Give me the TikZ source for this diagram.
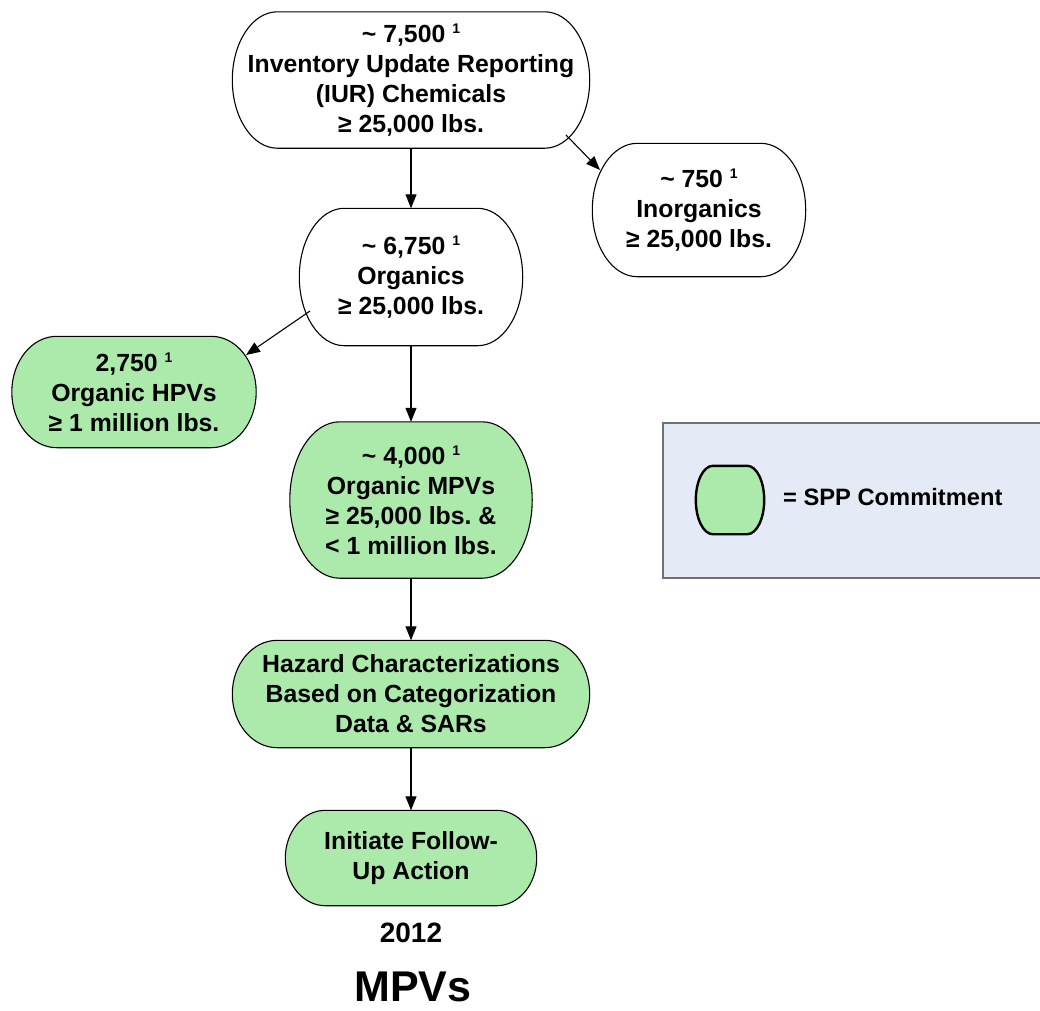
\documentclass[tikz,border=0pt]{standalone}
\usepackage{fontspec}
\setmainfont{Liberation Sans}
\usetikzlibrary{arrows.meta,calc,backgrounds}
\frenchspacing

\definecolor{sppgreen}{RGB}{172,234,172}
\definecolor{keyblue}{RGB}{229,235,246}
\definecolor{keyedge}{RGB}{112,112,112}

\newcommand\nodefont{\bfseries\fontsize{24.8}{30}\selectfont}
\newcommand\legendfont{\bfseries\fontsize{23.7}{28}\selectfont}
\newcommand\yearfont{\bfseries\fontsize{28}{32}\selectfont}
\newcommand\titlefont{\bfseries\fontsize{43}{48}\selectfont}
% footnote marker set after the counts
\newcommand\noteone{\raisebox{9pt}{\fontsize{14}{14}\selectfont 1}}

% terminator outline (flat top and bottom, elliptic ends) around a named node
% #1 extra options, #2 node, #3 horizontal radius of the ends, #4 fill
\newcommand\termoutline[4][]{%
  \draw[outline,#1,fill=#4] let \p1=(#2.north west), \p2=(#2.south east),
      \n1={(\y1-\y2)/2} in
    (\x1+#3,\y1) -- (\x2-#3,\y1)
    arc[start angle=90, end angle=-90, x radius=#3, y radius={\n1*1pt}]
    -- (\x1+#3,\y2)
    arc[start angle=270, end angle=90, x radius=#3, y radius={\n1*1pt}]
    -- cycle;}

\begin{document}
\begin{tikzpicture}[x=1pt,y=-1pt,
  term/.style={rectangle, inner sep=0pt, align=center, font=\nodefont},
  arr/.style={-{Triangle[length=14pt,width=11pt]}, line width=1.1pt},
  outline/.style={draw=black, line width=1.1pt}]
\useasboundingbox (0,0) rectangle (1040,1010);

% flowchart nodes
\node[term, minimum width=357pt, minimum height=136pt] (iur) at (411,80)
  {\textasciitilde{} 7,500 \noteone\\Inventory Update Reporting\\(IUR) Chemicals\\≥ 25,000 lbs.};
\node[term, minimum width=213pt, minimum height=133pt] (inorg) at (699,210)
  {\textasciitilde{} 750 \noteone\\Inorganics\\≥ 25,000 lbs.};
\node[term, minimum width=223pt, minimum height=137pt] (org) at (411,277)
  {\textasciitilde{} 6,750 \noteone\\Organics\\≥ 25,000 lbs.};
\node[term, minimum width=244pt, minimum height=111pt] (hpv) at (134,392)
  {2,750 \noteone\\Organic HPVs\\≥ 1 million lbs.};
\node[term, minimum width=242pt, minimum height=156pt] (mpv) at (411,500)
  {\textasciitilde{} 4,000 \noteone\\Organic MPVs\\≥ 25,000 lbs. \&\\< 1 million lbs.};
\node[term, minimum width=357pt, minimum height=107pt] (haz) at (411,694)
  {Hazard Characterizations\\Based on Categorization\\Data \& SARs};
\node[term, minimum width=251pt, minimum height=95pt] (init) at (411,858)
  {Initiate Follow-\\Up Action};

\node[font=\yearfont] (year) at (411,933) {2012};
\node[font=\titlefont] (title) at (413,987) {MPVs};

% legend
\node[draw=keyedge, line width=1.3pt, fill=keyblue, minimum width=378pt,
      minimum height=155pt, inner sep=0pt] (legendbox) at (852,500.5) {};
\node[minimum width=68pt, minimum height=68pt, inner sep=0pt] (key) at (730,500) {};
\node[anchor=west, font=\legendfont, inner sep=0pt] (keytext) at (783,497) {= SPP Commitment};

% outlines behind the texts
\begin{pgfonlayer}{background}
  \fill[white] (0,0) rectangle (1040,1010);
  \termoutline{iur}{45pt}{white}
  \termoutline{inorg}{45pt}{white}
  \termoutline{org}{45pt}{white}
  \termoutline{hpv}{45pt}{sppgreen}
  \termoutline{mpv}{50pt}{sppgreen}
  \termoutline{haz}{45pt}{sppgreen}
  \termoutline{init}{40pt}{sppgreen}
\end{pgfonlayer}
\termoutline[line width=2.4pt]{key}{17pt}{sppgreen}

% connectors
\draw[arr] (iur.south) -- (org.north);
\draw[arr] ($(iur.center)+(155,55)$) -- ($(inorg.center)+(-99,-40)$);
\draw[arr] ($(org.center)+(-101,34)$) -- ($(hpv.center)+(112,-37)$);
\draw[arr] (org.south) -- (mpv.north);
\draw[arr] (mpv.south) -- (haz.north);
\draw[arr] (haz.south) -- (init.north);
\end{tikzpicture}
\end{document}
